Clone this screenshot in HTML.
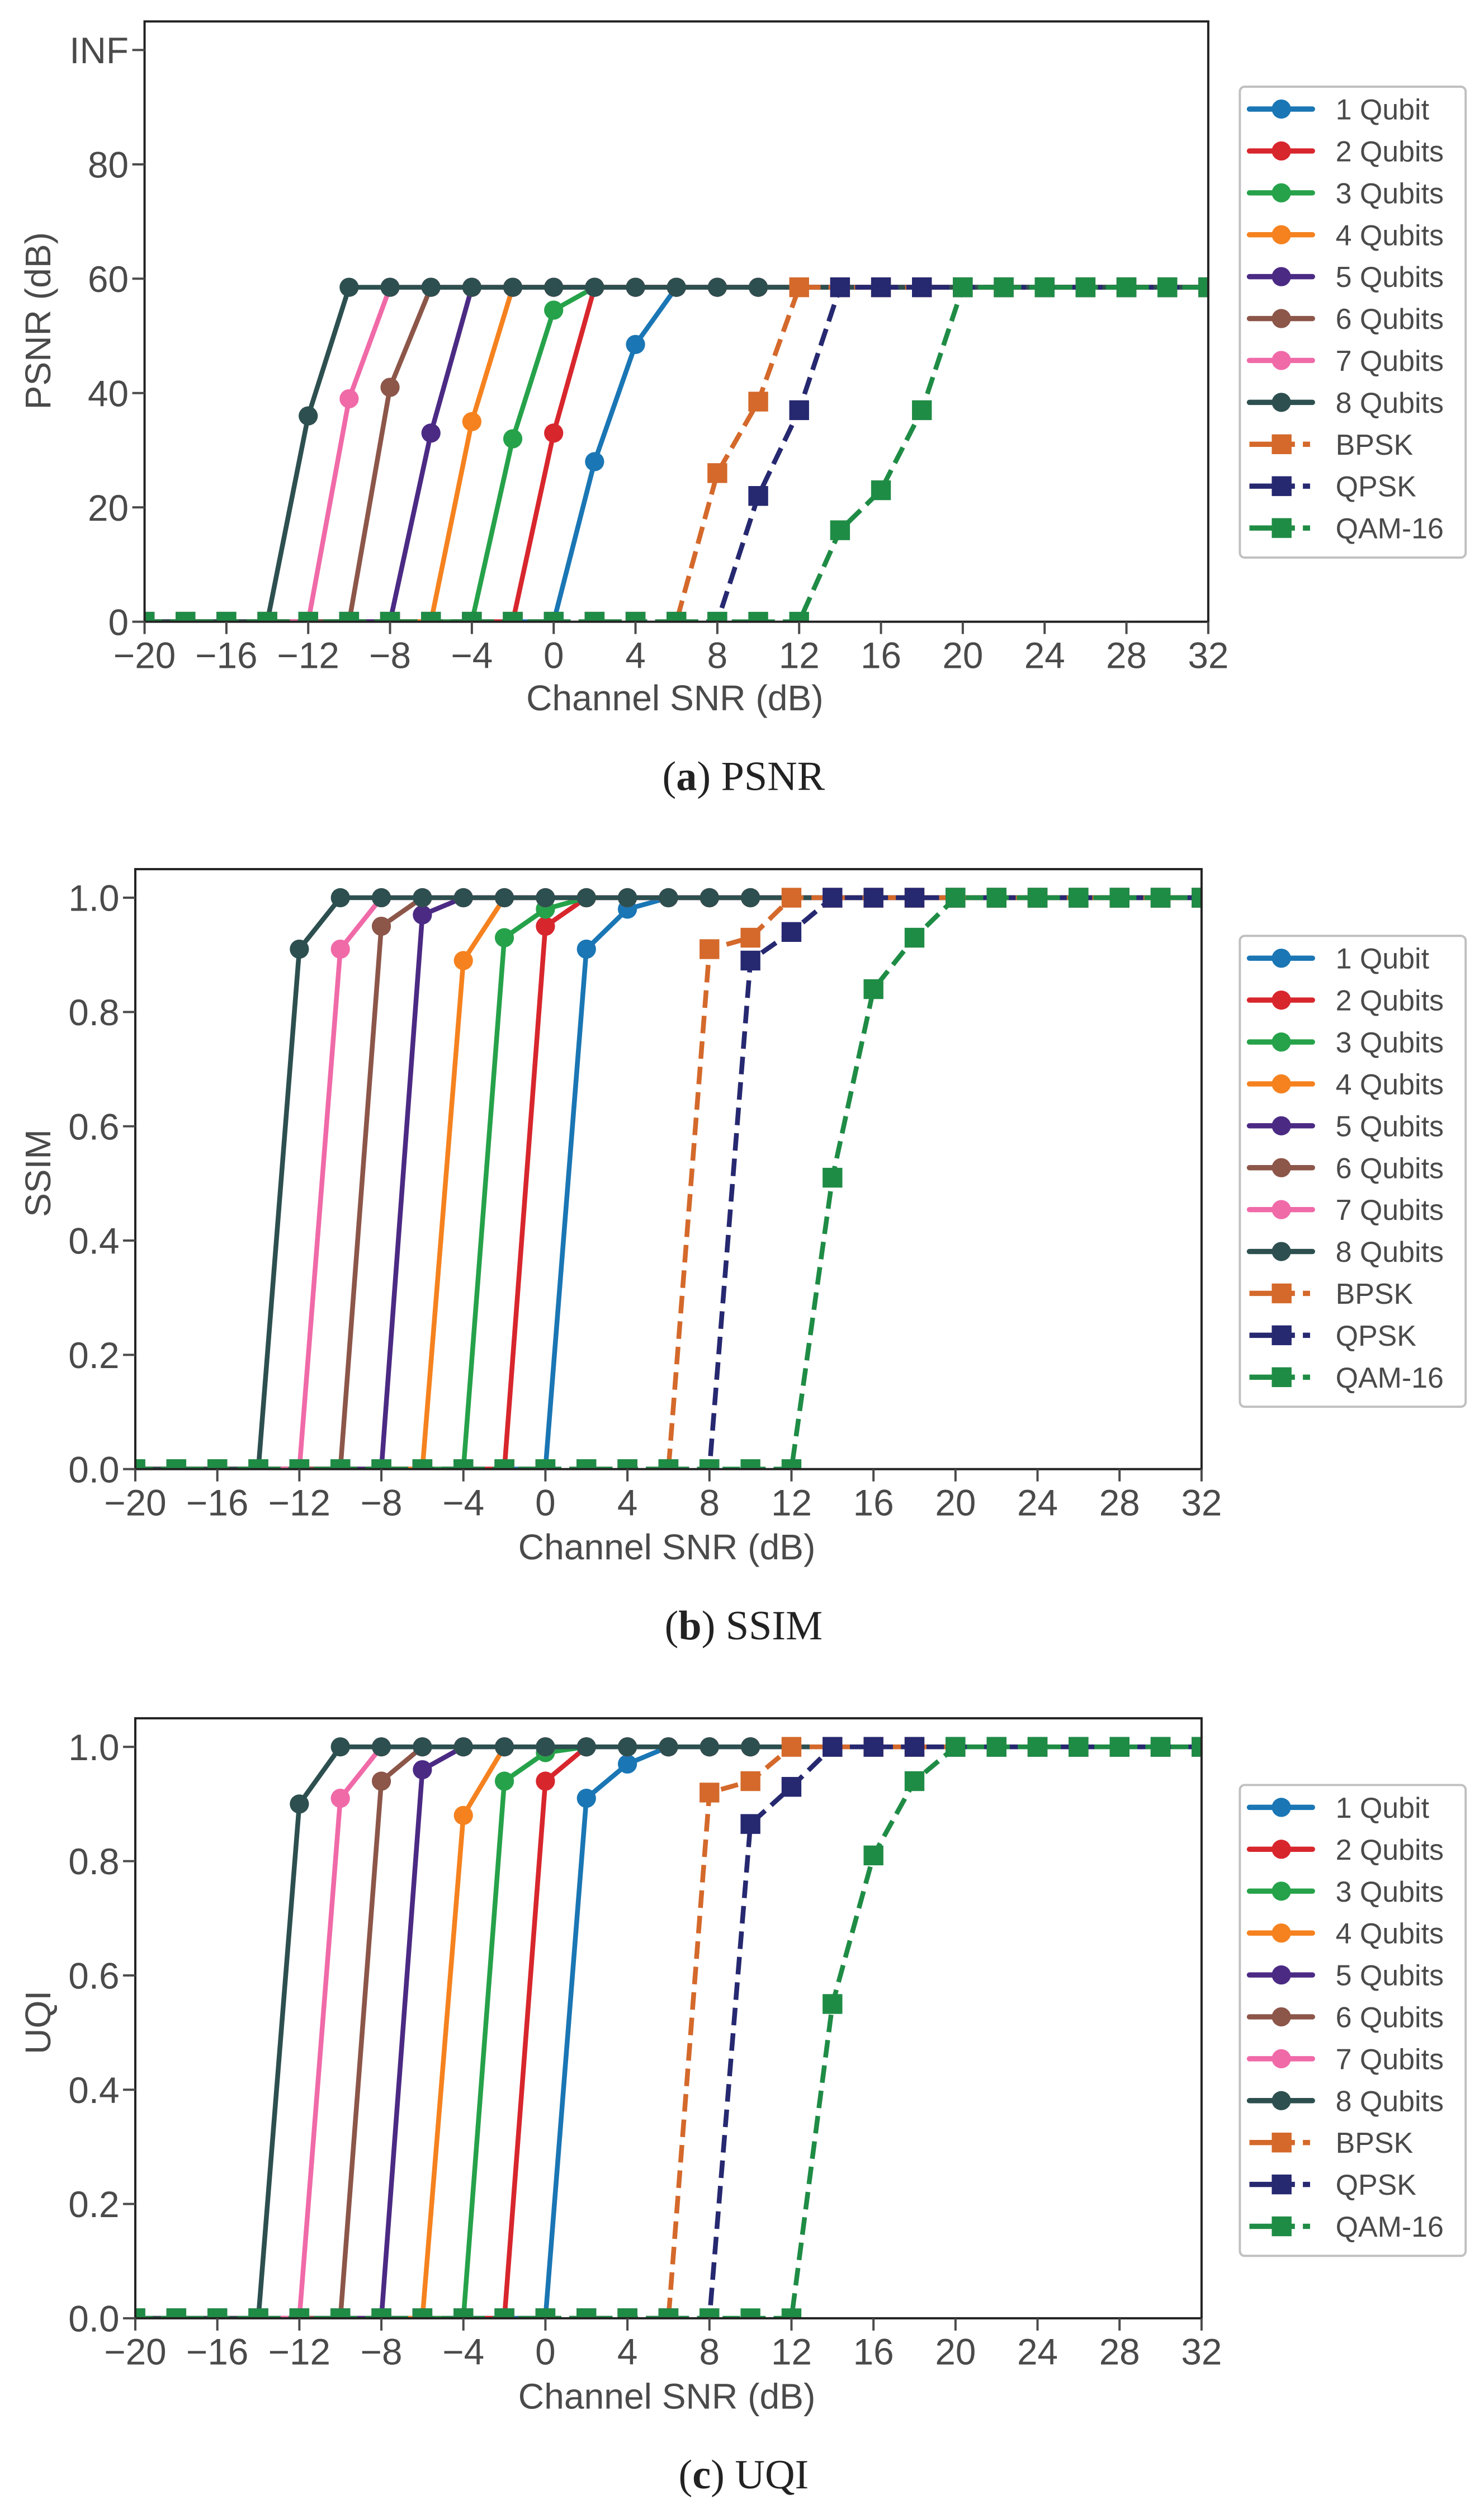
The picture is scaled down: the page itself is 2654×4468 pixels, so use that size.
<!DOCTYPE html>
<html><head><meta charset="utf-8"><style>
html,body{margin:0;padding:0;background:#fff;}
svg{display:block;}
text{font-family:"Liberation Sans",sans-serif;fill:#4a4a4a;}
.cap{font-family:"Liberation Serif",serif;fill:#222;}
</style></head><body>
<svg id="fig" xmlns="http://www.w3.org/2000/svg" width="2654" height="4468" viewBox="0 0 930 1565.6"></svg>
<script>
const xValues = [-20,-18,-16,-14,-12,-10,-8,-6,-4,-2,0,2,4,6,8,10,12,14,16,18,20,22,24,26,28,30,32];
const seriesNames = ["1 Qubit","2 Qubits","3 Qubits","4 Qubits","5 Qubits","6 Qubits","7 Qubits","8 Qubits","BPSK","QPSK","QAM-16"];
const xTicks = [-20,-16,-12,-8,-4,0,4,8,12,16,20,24,28,32];
const psnrStart = [2,0,-2,-4,-6,-8,-10,-12,8,10,14];
const psnrRamp = [[28,48.5],[33],[32,54.5],[35],[33],[41],[39],[36],[26,38.5],[22,37],[16,23,37]];
const psnrCap = 58.5;
const ssimStart = [2,0,-2,-4,-6,-8,-10,-12,8,10,14];
const ssimRamp = [[0.91,0.98],[0.95],[0.93,0.98],[0.89],[0.97],[0.95],[0.91],[0.91],[0.91,0.93],[0.89,0.94],[0.51,0.84,0.93]];
const ssimCap = 1.0;
const uqiStart = [2,0,-2,-4,-6,-8,-10,-12,8,10,14];
const uqiRamp = [[0.91,0.97],[0.94],[0.94,0.99],[0.88],[0.96],[0.94],[0.91],[0.90],[0.92,0.94],[0.865,0.93],[0.55,0.81,0.94]];
const uqiCap = 1.0;
const psnrTickVals = [0,20,40,60,80,100];
const psnrTickLabels = ["0","20","40","60","80","INF"];
const unitTickVals = [0,0.2,0.4,0.6,0.8,1.0];
const unitTickLabels = ["0.0","0.2","0.4","0.6","0.8","1.0"];

const colors = ["#1a76b4","#d8262d","#26a24a","#f5821f","#4b2a84","#8c5649","#f06aa8","#2d4f4f","#d4692b","#262870","#1f8c45"];
const NS="http://www.w3.org/2000/svg";
const svg=document.getElementById('fig');
function el(tag,attrs,parent){const e=document.createElementNS(NS,tag);for(const k in attrs)e.setAttribute(k,attrs[k]);(parent||svg).appendChild(e);return e;}

function build(start,ramp,cap){
  return start.map((s,i)=>xValues.map(x=>{
    if(x<s) return 0;
    const k=(x-s)/2;
    return k<ramp[i].length?ramp[i][k]:cap;
  }));
}

function chart(cfg){
  const {L,R,T,B,yMin,yMax,data,tickVals,tickLabels,ylabel,caption,letter,off,id}=cfg;
  const g=el('g',{});
  
  
  const xs=v=>L+(v+20)/52*(R-L);
  const ys=v=>B-(v-yMin)/(yMax-yMin)*(B-(cfg.Y1));
  const clip=el('clipPath',{id:'c'+id},g);
  el('rect',{x:L,y:T,width:R-L,height:B-T},clip);
  const plot=el('g',{'clip-path':'url(#c'+id+')'},g);
  data.forEach((vals,i)=>{
    const sq=i>=8;
    const sg=el('g',{},plot);
    
    
    const pts=vals.map((v,j)=>xs(xValues[j]).toFixed(2)+','+ys(v).toFixed(2)).join(' ');
    const pl=el('polyline',{points:pts,fill:'none',stroke:colors[i],'stroke-width':3,'stroke-linejoin':'round','stroke-linecap':sq?'butt':'round'},sg);
    if(sq) pl.setAttribute('stroke-dasharray','11 5');
    vals.forEach((v,j)=>{
      const cx=xs(xValues[j]),cy=ys(v);
      let m;
      if(sq) m=el('rect',{x:cx-6.2,y:cy-6.2,width:12.4,height:12.4,fill:colors[i]},sg);
      else m=el('circle',{cx:cx,cy:cy,r:6,fill:colors[i]},sg);
      
      
    });
  });
  const frame=el('rect',{x:L,y:T,width:R-L,height:B-T,fill:'none',stroke:'#222','stroke-width':1.4},g);
  
  
  xTicks.forEach(t=>{
    const x=xs(t);
    el('line',{x1:x,x2:x,y1:B,y2:B+7.7,stroke:'#4a4a4a','stroke-width':1.4},g);
    const tx=el('text',{x:x,y:B+29,'text-anchor':'middle','font-size':23},g);
    tx.textContent=(t<0?'\u2212'+(-t):String(t));
    
    
  });
  tickVals.forEach((t,k)=>{
    const y=ys(t);
    el('line',{x1:L-7.7,x2:L,y1:y,y2:y,stroke:'#4a4a4a','stroke-width':1.4},g);
    const tx=el('text',{x:L-10,y:y+8.3,'text-anchor':'end','font-size':23},g);
    tx.textContent=tickLabels[k];
    
    
  });
  const xl=el('text',{x:(L+R)/2-1,y:445+off,'text-anchor':'middle','font-size':22.5},g);
  xl.textContent='Channel SNR (dB)';
  
  
  const yl=el('text',{x:0,y:0,'text-anchor':'middle','font-size':22.5,transform:'translate(31.5,'+(cfg.ylY)+') rotate(-90)'},g);
  yl.textContent=ylabel;
  
  
  const cp=el('text',{x:466,y:495+off,'text-anchor':'middle','font-size':26,class:'cap'},g);
  
  
  cp.innerHTML='(<tspan font-weight="bold">'+letter+'</tspan>) '+caption;
  const lg=el('g',{},g);
  
  
  el('rect',{x:777,y:54.3+off,width:141.5,height:295,rx:3,fill:'#fff',stroke:'#c0c0c0','stroke-width':1.4},lg);
  seriesNames.forEach((n,i)=>{
    const y=68.3+off+i*26.25;
    const sq=i>=8;
    const e=el('g',{},lg);
    
    
    if(sq){
      el('line',{x1:783,x2:811.5,y1:y,y2:y,stroke:colors[i],'stroke-width':3.3},e);
      el('line',{x1:816.5,x2:821,y1:y,y2:y,stroke:colors[i],'stroke-width':3.3},e);
      el('rect',{x:797,y:y-6.2,width:12.4,height:12.4,fill:colors[i]},e);
    } else {
      el('line',{x1:783,x2:822.5,y1:y,y2:y,stroke:colors[i],'stroke-width':3.3,'stroke-linecap':'round'},e);
      el('circle',{cx:803,cy:y,r:6,fill:colors[i]},e);
    }
    const t=el('text',{x:837,y:y+6.5,'font-size':18.2},e);
    t.textContent=n;
  });
}

chart({id:'psnr',L:90.6,R:757.2,T:13.4,B:389.5,Y1:31.3,yMin:0,yMax:100,data:build(psnrStart,psnrRamp,psnrCap),tickVals:psnrTickVals,tickLabels:psnrTickLabels,ylabel:'PSNR (dB)',caption:'PSNR',letter:'a',off:0,ylY:201});
chart({id:'ssim',L:84.8,R:753,T:544.5,B:920.4,Y1:562.4,yMin:0,yMax:1,data:build(ssimStart,ssimRamp,ssimCap),tickVals:unitTickVals,tickLabels:unitTickLabels,ylabel:'SSIM',caption:'SSIM',letter:'b',off:532,ylY:735});
chart({id:'uqi',L:84.8,R:753,T:1076.5,B:1452.4,Y1:1094.4,yMin:0,yMax:1,data:build(uqiStart,uqiRamp,uqiCap),tickVals:unitTickVals,tickLabels:unitTickLabels,ylabel:'UQI',caption:'UQI',letter:'c',off:1064,ylY:1267});
</script>
</body></html>
